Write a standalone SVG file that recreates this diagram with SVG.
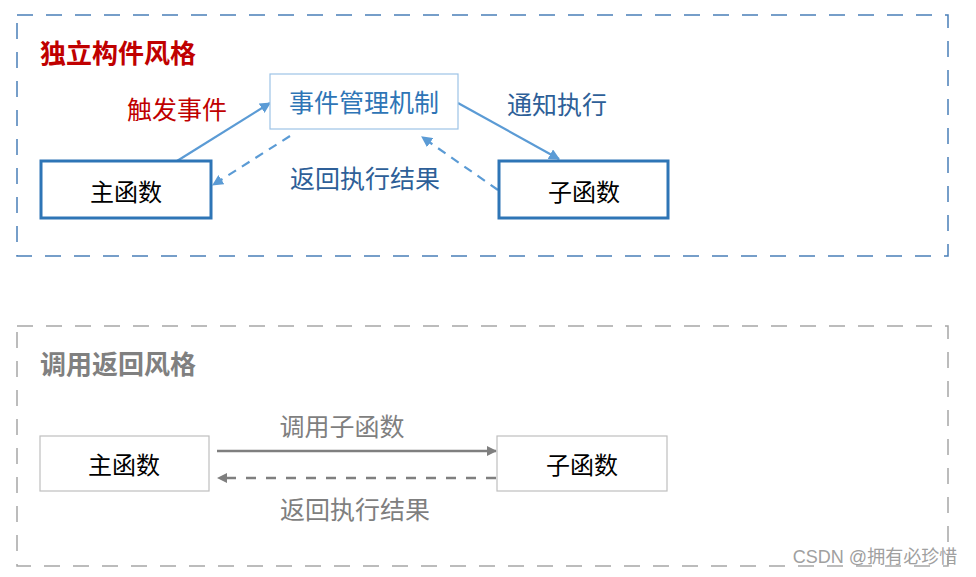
<svg xmlns="http://www.w3.org/2000/svg" width="976" height="577" viewBox="0 0 976 577">
<style>
text{font-family:"Noto Sans CJK SC","Liberation Sans",sans-serif;text-anchor:middle;dominant-baseline:central}
.frameB{fill:none;stroke:#4a7fb8;stroke-width:1.5;stroke-dasharray:16 13}
.frameG{fill:none;stroke:#a6a6a6;stroke-width:1.5;stroke-dasharray:16 13}
.title{font-size:26px;font-weight:bold}
.lbl{font-size:25px}
.nd{font-size:24px}
.thick{fill:#fff;stroke:#2e75b6;stroke-width:3}
.thin{fill:#fff;stroke:#9dc3e6;stroke-width:1.2}
.gbox{fill:#fff;stroke:#bfbfbf;stroke-width:1.2}
.ba{fill:none;stroke:#5b9bd5;stroke-width:2.2;marker-end:url(#ab)}
.bd{stroke-dasharray:9 7}
.ga{fill:none;stroke:#7f7f7f;stroke-width:2.5;marker-end:url(#ag)}
.gd{stroke-dasharray:10 10}
</style>
<defs>
<marker id="ab" viewBox="0 0 10 10" refX="9" refY="5" markerWidth="5" markerHeight="5" orient="auto" markerUnits="strokeWidth"><path d="M0,0 L10,5 L0,10 z" fill="#5b9bd5"/></marker>
<marker id="ag" viewBox="0 0 10 10" refX="9" refY="5" markerWidth="4" markerHeight="4" orient="auto" markerUnits="strokeWidth"><path d="M0,0 L10,5 L0,10 z" fill="#7f7f7f"/></marker>
</defs>
<rect width="976" height="577" fill="#fff"/>
<rect class="frameB" x="17" y="15" width="931" height="241"/>
<rect class="frameG" x="17" y="326" width="931" height="240"/>
<text class="title" x="118" y="51" fill="#c00000">独立构件风格</text>
<text class="title" x="118" y="362" fill="#808080">调用返回风格</text>
<g id="connectors">
<line class="ba" x1="177" y1="161" x2="270" y2="103"/>
<line class="ba" x1="458" y1="103" x2="559" y2="159"/>
<line class="ba bd" x1="290" y1="136" x2="213" y2="185"/>
<line class="ba bd" x1="498" y1="190" x2="422" y2="137"/>
<line class="ga" x1="217" y1="451" x2="496" y2="451"/>
<line class="ga gd" x1="496" y1="478" x2="218" y2="478"/>
<text class="lbl" x="177" y="108" fill="#c00000">触发事件</text>
<text class="lbl" x="557" y="103" fill="#2e5f98">通知执行</text>
<text class="lbl" x="365" y="177" fill="#2e5f98">返回执行结果</text>
<text class="lbl" x="342" y="425" fill="#7f7f7f">调用子函数</text>
<text class="lbl" x="355" y="508" fill="#7f7f7f">返回执行结果</text>
</g>
<g id="event">
<rect class="thin" x="270" y="74" width="188" height="55"/>
<text class="lbl" x="364" y="101" fill="#2e75b6">事件管理机制</text>
</g>
<g id="main1">
<rect class="thick" x="41" y="161" width="170" height="57"/>
<text class="nd" x="126" y="190" fill="#000">主函数</text>
</g>
<g id="sub1">
<rect class="thick" x="499" y="161" width="169" height="57"/>
<text class="nd" x="584" y="190" fill="#000">子函数</text>
</g>
<g id="main2">
<rect class="gbox" x="40" y="436" width="169" height="55"/>
<text class="nd" x="124" y="463" fill="#000">主函数</text>
</g>
<g id="sub2">
<rect class="gbox" x="497" y="436" width="170" height="55"/>
<text class="nd" x="582" y="463" fill="#000">子函数</text>
</g>
<text x="875" y="557" font-size="18" fill="#a0a0a0" style="font-family:'Liberation Sans','Noto Sans CJK SC',sans-serif">CSDN @拥有必珍惜</text>
</svg>
